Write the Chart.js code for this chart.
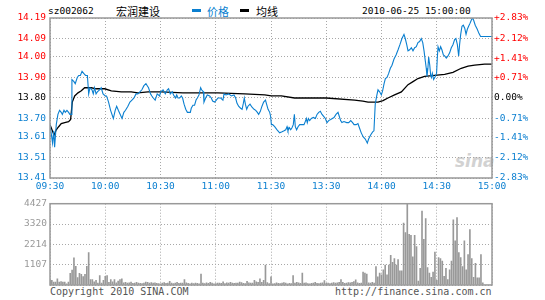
<!DOCTYPE html>
<html lang="zh">
<head>
<meta charset="UTF-8">
<title>宏润建设 分时</title>
<style>
  body { margin: 0; background: #fff; }
  #wrap { position: relative; width: 545px; height: 300px; overflow: hidden; background: #fff; }
  #wrap canvas { position: absolute; left: 0; }
  .t { position: absolute; white-space: nowrap; font-family: "DejaVu Sans Mono", monospace; font-size: 9.5px; line-height: 12px; color: #000; }
  .cn { font-family: "Noto Sans CJK SC", sans-serif; font-size: 11px; line-height: 14px; }
  .key { position: absolute; width: 9px; height: 3px; }
</style>
</head>
<body>
<div id="wrap">
  <div class="t" style="left:48px;top:5px;">sz002062</div>
  <div class="t cn" style="left:116px;top:4px;">宏润建设</div>
  <div class="key" style="left:192px;top:9px;background:#0a7fd0;"></div>
  <div class="t cn" style="left:207px;top:4px;color:#0a7fd0;">价格</div>
  <div class="key" style="left:240px;top:9px;background:#000;"></div>
  <div class="t cn" style="left:256px;top:4px;">均线</div>
  <div class="t" style="left:362px;top:5px;">2010-06-25 15:00:00</div>
  <div class="t" style="left:455px;top:151px;font-family:'DejaVu Sans';font-weight:bold;font-style:italic;font-size:17px;line-height:20px;color:#d2d2d2;">sina</div>
  <div class="t" style="left:50px;top:286px;font-size:10px;color:#555;">Copyright 2010 SINA.COM</div>
  <div class="t" style="left:335px;top:286px;font-size:10px;color:#555;">http://finance.sina.com.cn</div>
  <canvas id="priceChart" width="545" height="196" style="top:0;"></canvas>
  <canvas id="volChart" width="545" height="105" style="top:195px;"></canvas>
</div>

<script src="https://cdn.jsdelivr.net/npm/chart.js"></script>
<script>
// time axis: minutes since 09:30 (lunch break removed), one label every 30 min
const timeLabels = ['09:30', '10:00', '10:30', '11:00', '11:30', '13:30', '14:00', '14:30', '15:00'];
const prevClose = 13.80;
const priceTicks = [13.41, 13.51, 13.61, 13.70, 13.80, 13.90, 14.00, 14.09, 14.19];
const pctTicks = [-2.83, -2.12, -1.41, -0.71, 0, 0.71, 1.41, 2.12, 2.83];
const volTicks = [0, 1107, 2214, 3320, 4427];

// price line
const priceMin = [0, 1.4, 2.0, 2.5, 3.4, 4.3, 5.2, 6.1, 6.7, 7.6, 8.3, 9.2, 10.1, 10.8, 11.6, 11.9, 13.0, 13.7, 14.8, 15.6,
  16.5, 17.4, 18.3, 19.3, 20.3, 21.0, 21.7, 22.8, 23.5, 24.2, 25.0, 25.7, 26.9, 27.8, 28.8, 30.0, 30.7, 31.8, 32.9, 34.4,
  35.4, 36.2, 37.1, 39.1, 40.1, 41.0, 42.3, 43.4, 44.5, 45.6, 46.7, 47.7, 48.8, 49.9, 51.0, 52.1, 52.8, 53.5, 54.6, 55.3,
  56.1, 57.1, 58.2, 59.5, 60.1, 61.4, 62.6, 63.7, 64.4, 65.3, 66.4, 67.1, 68.1, 68.8, 69.5, 70.4, 71.3, 72.0, 72.8, 73.7,
  74.6, 76.2, 76.7, 77.6, 78.5, 79.3, 80.0, 80.9, 81.8, 82.3, 83.3, 83.6, 84.5, 85.4, 86.7, 87.6, 88.3, 89.4, 90.3, 91.2,
  92.7, 93.9, 94.5, 95.6, 97.0, 98.5, 99.9, 100.8, 101.5, 102.4, 103.5, 104.3, 105.0, 105.5, 106.1, 106.8, 107.5, 108.6, 109.7, 110.8,
  111.7, 112.6, 113.3, 114.2, 115.1, 116.0, 117.0, 117.6, 118.4, 119.3, 119.8, 120.2, 120.9, 122.0, 123.3, 124.7, 126.0, 127.1, 128.0, 128.7,
  129.2, 130.0, 130.7, 131.4, 132.1, 132.7, 133.2, 133.9, 134.7, 135.6, 137.9, 138.6, 139.2, 139.7, 140.3, 141.0, 141.9, 143.0, 144.1, 145.0,
  145.9, 146.8, 147.7, 148.6, 149.5, 150.4, 151.3, 152.4, 153.3, 154.2, 155.3, 156.4, 157.1, 157.8, 158.5, 159.6, 161.1, 162.2, 163.3, 164.3,
  165.1, 166.2, 167.2, 168.0, 169.0, 170.1, 171.2, 172.3, 173.0, 174.1, 175.2, 175.9, 176.6, 177.4, 178.1, 179.0, 179.9, 180.6, 181.4, 182.1,
  183.0, 183.9, 184.8, 185.7, 186.8, 187.9, 189.0, 190.0, 191.1, 192.2, 192.9, 193.7, 194.4, 195.3, 196.2, 197.1, 198.0, 198.9, 199.8, 200.7,
  201.6, 202.4, 203.1, 203.8, 204.3, 204.7, 205.2, 205.6, 206.2, 206.7, 207.1, 207.6, 208.3, 209.2, 209.9, 210.3, 210.7, 211.4, 212.1, 212.8,
  213.6, 214.3, 215.2, 216.1, 217.0, 217.9, 218.8, 219.7, 220.4, 221.2, 221.9, 222.4, 223.0, 223.7, 224.4, 225.2, 225.9, 226.6, 227.3, 228.1,
  228.8, 229.3, 230.0, 230.9, 232.0, 232.9, 233.8, 240];
const priceVal = [13.67, 13.58, 13.64, 13.56, 13.67, 13.72, 13.74, 13.73, 13.72, 13.74, 13.73, 13.74, 13.73, 13.72, 13.72, 13.89, 13.88, 13.87, 13.90, 13.91,
  13.91, 13.93, 13.92, 13.91, 13.91, 13.82, 13.85, 13.84, 13.82, 13.85, 13.82, 13.83, 13.84, 13.85, 13.82, 13.81, 13.81, 13.78, 13.74, 13.70,
  13.74, 13.76, 13.74, 13.70, 13.73, 13.74, 13.76, 13.78, 13.79, 13.80, 13.82, 13.82, 13.83, 13.84, 13.86, 13.87, 13.86, 13.85, 13.82, 13.81,
  13.80, 13.79, 13.82, 13.81, 13.83, 13.84, 13.82, 13.84, 13.845, 13.82, 13.83, 13.815, 13.80, 13.815, 13.80, 13.80, 13.81, 13.80, 13.77, 13.745,
  13.73, 13.73, 13.75, 13.765, 13.765, 13.79, 13.80, 13.815, 13.85, 13.84, 13.83, 13.78, 13.80, 13.815, 13.81, 13.80, 13.785, 13.78, 13.79, 13.80,
  13.80, 13.79, 13.82, 13.815, 13.82, 13.81, 13.815, 13.80, 13.775, 13.76, 13.75, 13.745, 13.775, 13.80, 13.77, 13.745, 13.76, 13.77, 13.755, 13.745,
  13.74, 13.73, 13.72, 13.735, 13.76, 13.78, 13.79, 13.77, 13.745, 13.73, 13.71, 13.67, 13.67, 13.66, 13.645, 13.63, 13.635, 13.64, 13.645, 13.66,
  13.64, 13.655, 13.645, 13.655, 13.67, 13.72, 13.66, 13.645, 13.66, 13.67, 13.67, 13.685, 13.70, 13.68, 13.70, 13.69, 13.70, 13.705, 13.70, 13.72,
  13.73, 13.735, 13.72, 13.71, 13.70, 13.68, 13.69, 13.695, 13.70, 13.705, 13.72, 13.73, 13.71, 13.69, 13.68, 13.685, 13.68, 13.68, 13.69, 13.68,
  13.67, 13.67, 13.675, 13.655, 13.63, 13.61, 13.60, 13.58, 13.60, 13.62, 13.635, 13.64, 13.77, 13.81, 13.84, 13.83, 13.815, 13.835, 13.87, 13.895,
  13.90, 13.92, 13.945, 13.96, 13.99, 14.01, 14.035, 14.06, 14.09, 14.11, 14.09, 14.06, 14.03, 14.035, 14.045, 14.03, 14.045, 14.05, 14.07, 14.075,
  14.09, 14.07, 14.03, 13.98, 13.945, 13.905, 13.945, 14.00, 13.96, 13.91, 13.90, 13.92, 13.89, 13.905, 13.92, 13.995, 14.05, 14.03, 14.05, 14.035,
  14.01, 14.005, 13.995, 14.005, 14.02, 14.045, 14.06, 14.085, 14.09, 14.06, 14.005, 14.06, 14.11, 14.15, 14.155, 14.14, 14.11, 14.135, 14.15, 14.165,
  14.18, 14.19, 14.18, 14.155, 14.135, 14.115, 14.10, 14.10];

// average price line
const avgMin = [0, 2.2, 3.4, 4.7, 6.1, 8.0, 10.1, 11.2, 12.1, 13.4, 15.2, 17.0, 18.8, 20.3, 22.4, 25.1, 29.7, 33.3, 38.7, 44.1,
  47.7, 53.2, 60.4, 72.2, 91.2, 105.7, 116.6, 120.2, 125.6, 132.8, 150.0, 165.4, 169.9, 172.7, 176.3, 178.1, 180.8, 183.5, 187.1, 190.8,
  194.4, 197.1, 199.8, 203.4, 208.9, 214.3, 218.8, 223.3, 227.0, 230.6, 236.0, 240];
const avgVal = [13.67, 13.62, 13.645, 13.66, 13.675, 13.68, 13.685, 13.695, 13.78, 13.81, 13.825, 13.835, 13.85, 13.85, 13.85, 13.845, 13.845, 13.835, 13.83, 13.83,
  13.825, 13.83, 13.83, 13.825, 13.825, 13.82, 13.815, 13.81, 13.81, 13.80, 13.80, 13.79, 13.785, 13.78, 13.78, 13.78, 13.787, 13.80, 13.815, 13.83,
  13.865, 13.88, 13.895, 13.905, 13.91, 13.915, 13.925, 13.945, 13.955, 13.96, 13.965, 13.965];

// volume per minute (index = minutes since open)
const volumes = [
  250, 250, 160, 160, 330, 160, 190, 160, 160, 70,
  160, 630, 810, 1480, 1020, 400, 630, 580, 460, 580,
  1020, 1760, 300, 300, 175, 250, 105, 510, 105, 250,
  475, 510, 150, 300, 175, 300, 120, 210, 300, 330,
  120, 150, 100, 120, 160, 90, 100, 150, 110, 90,
  80, 100, 160, 140, 110, 130, 100, 120, 90, 80,
  70, 100, 130, 90, 100, 200, 110, 80, 100, 140,
  90, 110, 100, 300, 120, 90, 60, 110, 80, 100,
  90, 70, 600, 100, 80, 120, 90, 140, 100, 60,
  80, 110, 100, 90, 170, 80, 120, 100, 150, 110,
  90, 110, 100, 160, 130, 90, 80, 200, 120, 110,
  100, 250, 170, 150, 330, 140, 250, 1090, 130, 80,
  440, 60, 80, 120, 90, 80, 100, 130, 110, 70,
  90, 80, 510, 100, 150, 120, 90, 650, 100, 120,
  80, 70, 90, 100, 140, 90, 80, 110, 120, 245,
  90, 110, 80, 100, 130, 100, 120, 150, 300, 140,
  90, 110, 130, 120, 150, 180, 280, 120, 90, 100,
  700, 650, 600, 120, 100, 140, 110, 1000, 440, 650,
  560, 830, 1090, 560, 1090, 1620, 1230, 1440, 1090, 1390,
  770, 770, 3370, 2850, 4427, 2760, 2700, 1530, 2700, 2090,
  210, 910, 4020, 2490, 3620, 950, 650, 420, 700, 1790,
  250, 1490, 1440, 1300, 475, 910, 300, 830, 1300, 3550,
  2410, 3670, 1760, 1490, 1000, 2410, 830, 1650, 3020, 1440,
  420, 1180, 390, 390, 1650, 120, 0, 0, 0, 0,
  0
];

const red = '#ff0000';
const blue = '#0a7fd0';
const gridColor = '#a8a8a8';
const mono = { family: 'DejaVu Sans Mono', size: 9.5 };

// gray frame round the plot area
const frame = {
  id: 'frame',
  afterDraw(chart) {
    const a = chart.chartArea;
    const ctx = chart.ctx;
    ctx.save();
    ctx.strokeStyle = '#999';
    ctx.lineWidth = 1.5;
    ctx.strokeRect(a.left, a.top, a.right - a.left, a.bottom - a.top);
    ctx.restore();
  }
};

function pairs(xs, ys) {
  return xs.map((x, i) => ({ x: x, y: ys[i] }));
}

function timeAxis(showLabels) {
  return {
    type: 'linear',
    min: 0,
    max: 240,
    offset: false,
    afterBuildTicks: s => { s.ticks = timeLabels.map((t, i) => ({ value: i * 30 })); },
    afterFit: s => { s.height = showLabels ? 18 : 0; },
    ticks: {
      display: showLabels,
      autoSkip: false,
      maxRotation: 0,
      padding: 3,
      color: blue,
      font: mono,
      callback: v => timeLabels[Math.round(v / 30)]
    },
    grid: { color: gridColor, drawTicks: false, offset: false },
    border: { display: false, dash: [1, 2] }
  };
}

function sideColor(v, ref) {
  if (Math.abs(v - ref) < 1e-6) return '#000';
  return v > ref ? red : blue;
}

new Chart(document.getElementById('priceChart'), {
  type: 'line',
  data: {
    datasets: [
      {
        label: '价格',
        data: pairs(priceMin, priceVal),
        borderColor: blue,
        borderWidth: 1.1,
        pointRadius: 0,
        tension: 0,
        yAxisID: 'y'
      },
      {
        label: '均线',
        data: pairs(avgMin, avgVal),
        borderColor: '#000',
        borderWidth: 1.3,
        pointRadius: 0,
        tension: 0,
        yAxisID: 'y'
      }
    ]
  },
  options: {
    responsive: false,
    animation: false,
    devicePixelRatio: 1,
    layout: { padding: { top: 18 } },
    plugins: { legend: { display: false }, tooltip: { enabled: false } },
    scales: {
      x: timeAxis(true),
      y: {
        position: 'left',
        min: 13.41,
        max: 14.19,
        afterBuildTicks: s => { s.ticks = priceTicks.map(v => ({ value: v })); },
        afterFit: s => { s.width = 50; },
        ticks: {
          padding: 4,
          font: mono,
          color: c => sideColor(c.tick.value, prevClose),
          callback: v => v.toFixed(2)
        },
        grid: { color: gridColor, drawTicks: false },
        border: { display: false, dash: [1, 2] }
      },
      yPct: {
        position: 'right',
        min: -2.83,
        max: 2.83,
        afterBuildTicks: s => { s.ticks = pctTicks.map(v => ({ value: v })); },
        afterFit: s => { s.width = 53; },
        ticks: {
          padding: 2,
          font: mono,
          color: c => sideColor(c.tick.value, 0),
          callback: v => (v > 0 ? '+' : '') + v.toFixed(2) + '%'
        },
        grid: { display: false, drawTicks: false },
        border: { display: false }
      }
    }
  },
  plugins: [frame]
});

new Chart(document.getElementById('volChart'), {
  type: 'bar',
  data: {
    datasets: [{
      label: '成交量',
      data: volumes.map((v, i) => ({ x: i, y: v })),
      backgroundColor: '#999',
      barThickness: 1
    }]
  },
  options: {
    responsive: false,
    animation: false,
    devicePixelRatio: 1,
    layout: { padding: { top: 6, right: 53, bottom: 15 } },
    plugins: { legend: { display: false }, tooltip: { enabled: false } },
    scales: {
      x: timeAxis(false),
      y: {
        min: 0,
        max: 4427,
        afterBuildTicks: s => { s.ticks = volTicks.map(v => ({ value: v })); },
        afterFit: s => { s.width = 50; },
        ticks: {
          padding: 3,
          font: mono,
          color: '#999',
          callback: v => (v === 0 ? '' : String(v))
        },
        grid: { color: gridColor, drawTicks: false },
        border: { display: false, dash: [1, 2] }
      }
    }
  },
  plugins: [frame]
});
</script>
</body>
</html>
